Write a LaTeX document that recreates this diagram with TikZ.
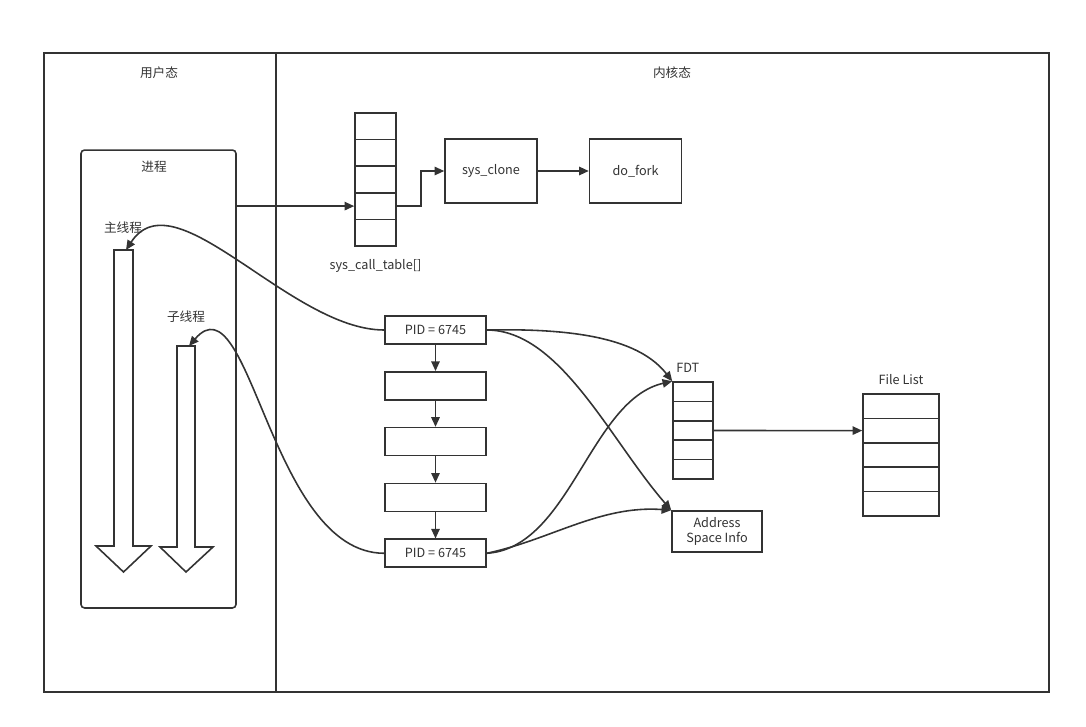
\documentclass[tikz,border=0pt]{standalone}
\usepackage{fontspec}
\newfontfamily\cjkfont{Noto Sans CJK SC}
\usetikzlibrary{arrows.meta,positioning}

\begin{document}
\begin{tikzpicture}[x=0.02cm, y=-0.02cm, >={Triangle[length=5.5pt,width=4.8pt]}, line width=0.9pt, color=black!80, font=\cjkfont\fontsize{7.2}{8.6}\selectfont]
	\tikzstyle{blk}=[draw, minimum width=1.84cm, minimum height=1.28cm, inner sep=1pt, align=center]
	\tikzstyle{pid}=[draw, minimum width=2.02cm, minimum height=0.56cm, inner sep=1pt]
	\tikzstyle{cell}=[draw, inner sep=0pt]
	\tikzstyle{lbl}=[inner sep=1pt]
	\useasboundingbox (0,0) rectangle (1086,727);
	% user / kernel frame
	\draw (44,53) rectangle (1049,692);
	\draw (276,53) -- (276,692);
	\node[lbl] (user) at (159,73) {用户态};
	\node[lbl] (kernel) at (672,73) {内核态};
	% process with its threads
	\node[draw, rounded corners=2pt, minimum width=3.1cm, minimum height=9.16cm] (proc) at (158.5,379) {};
	\node[lbl] (proclbl) at (154,167) {进程};
	\draw (114,250) -- (133,250) -- (133,546) -- (151,546) -- (123.5,572) -- (96,546) -- (114,546) -- cycle;
	\draw (177,346) -- (195,346) -- (195,547) -- (213,547) -- (186,572) -- (160,547) -- (177,547) -- cycle;
	\coordinate (mainTop) at (126,250);
	\coordinate (subTop) at (189,346);
	\node[lbl] (mainlbl) at (123,228) {主线程};
	\node[lbl] (sublbl) at (186,317) {子线程};
	% system call table
	\foreach \i in {1,...,5}
		\node[cell, minimum width=0.82cm, minimum height=0.532cm] (sct\i) at (375.5,99.7+26.6*\i) {};
	\node[lbl, below=0.2cm of sct5] (sctlbl) {sys\_call\_table[]};
	\node[blk] (clone) at (491,171) {sys\_clone};
	\node[blk, right=1.02cm of clone] (fork) {do\_fork};
	\draw[->] (proc.east |- sct4) -- (sct4.west);
	\draw[->] (sct4.east) -- ++(24,0) |- (clone.west);
	\draw[->] (clone) -- (fork);
	% task list
	\node[pid] (pid1) at (435.5,330) {PID = 6745};
	\node[pid, below=0.525cm of pid1] (pid2) {};
	\node[pid, below=0.525cm of pid2] (pid3) {};
	\node[pid, below=0.525cm of pid3] (pid4) {};
	\node[pid, below=0.525cm of pid4] (pid5) {PID = 6745};
	\foreach \i/\j in {1/2,2/3,3/4,4/5}
		\draw[->] (pid\i) -- (pid\j);
	% file descriptors
	\foreach \i in {1,...,5}
		\node[cell, minimum width=0.8cm, minimum height=0.388cm] (fdt\i) at (693,372.3+19.4*\i) {};
	\node[lbl, above=0.12cm of fdt1, xshift=-3pt] (fdtlbl) {FDT};
	\foreach \i in {1,...,5}
		\node[cell, minimum width=1.52cm, minimum height=0.488cm] (fl\i) at (901,381.8+24.4*\i) {};
	\node[lbl, above=0.12cm of fl1] (fllbl) {File List};
	\draw[->] (fdt3.east) -- (fl2.west);
	\node[draw, minimum width=1.8cm, minimum height=0.82cm, inner sep=1pt, align=center] (addr) at (717,531.5) {Address\\Space Info};
	% links
	\draw[->] (pid1.west) .. controls (290,330) and (175,175) .. (mainTop);
	\draw[->] (pid5.west) .. controls (270,553) and (250,275) .. (subTop);
	\draw[->] (pid1.east) .. controls (580,328) and (640,340) .. (fdt1.north west);
	\draw[->] (pid1.east) .. controls (560,330) and (610,440) .. (addr.north west);
	\draw[->] (pid5.east) .. controls (570,548) and (590,400) .. (fdt1.north west);
	\draw[->] (pid5.east) .. controls (550,540) and (600,505) .. (addr.north west);
\end{tikzpicture}
\end{document}
